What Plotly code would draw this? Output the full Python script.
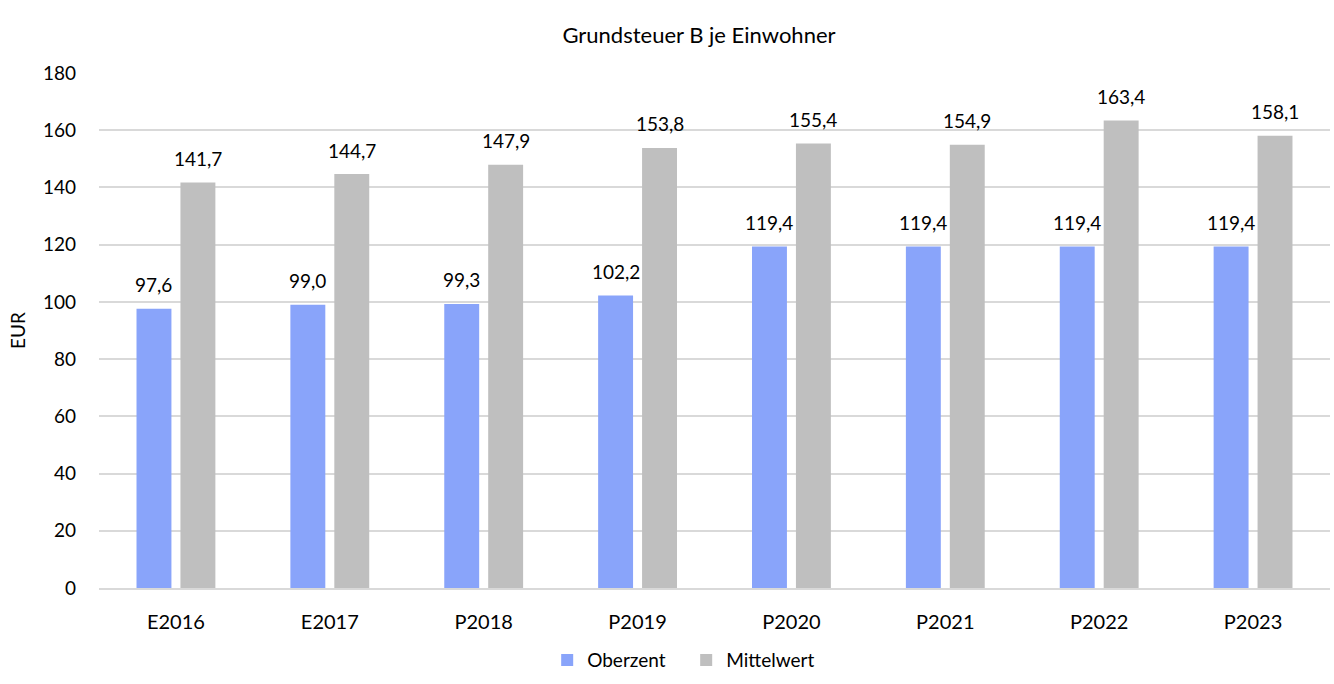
import plotly.graph_objects as go

categories = ["E2016", "E2017", "P2018", "P2019", "P2020", "P2021", "P2022", "P2023"]
oberzent = [97.6, 99.0, 99.3, 102.2, 119.4, 119.4, 119.4, 119.4]
mittelwert = [141.7, 144.7, 147.9, 153.8, 155.4, 154.9, 163.4, 158.1]
y_ticks = [0, 20, 40, 60, 80, 100, 120, 140, 160, 180]

FONT = "Lato, 'Noto Sans', sans-serif"
BLUE = "#89A4FA"
GRAY = "#BFBFBF"

def fmt(v):
    return f"{v:.1f}".replace(".", ",")

fig = go.Figure()
fig.add_trace(go.Bar(name="Oberzent", x=categories, y=oberzent, marker_color=BLUE,
                     marker_line_width=0, hoverinfo="x+y"))
fig.add_trace(go.Bar(name="Mittelwert", x=categories, y=mittelwert, marker_color=GRAY,
                     marker_line_width=0, hoverinfo="x+y"))

ann = []
for series, shift in ((oberzent, -22), (mittelwert, 22)):
    for c, v in zip(categories, series):
        ann.append(dict(x=c, y=v, xref="x", yref="y", text=fmt(v), showarrow=False,
                        xshift=shift, yshift=24, yanchor="middle",
                        font=dict(family=FONT, size=19, color="#000000")))

fig.update_layout(
    width=1334, height=684,
    paper_bgcolor="white", plot_bgcolor="white",
    margin=dict(l=99, r=4, t=73, b=96),
    barmode="group", bargap=0.429, bargroupgap=0.205,
    font=dict(family=FONT, size=20, color="#000000"),
    title=dict(text="Grundsteuer B je Einwohner", x=0.4874, xref="paper", xanchor="center",
               y=0.949, yref="container", yanchor="middle",
               font=dict(family=FONT, size=22, color="#000000")),
    xaxis=dict(showgrid=False, showline=True, linecolor="#D9D9D9", linewidth=1.5,
               ticks="", tickfont=dict(size=20), ticklabelstandoff=15),
    yaxis=dict(range=[0, 180], tickvals=y_ticks, showgrid=True, gridcolor="#D9D9D9",
               gridwidth=1.5, zeroline=False, showline=False, ticks="",
               ticklabelstandoff=22, tickfont=dict(size=19),
               title=dict(text="EUR", standoff=12, font=dict(size=19))),
    legend=dict(orientation="h", x=0.477, xanchor="center", y=-0.14, yanchor="middle",
                font=dict(size=19), itemwidth=30, traceorder="normal",
                entrywidth=94, entrywidthmode="pixels"),
    annotations=ann,
)

fig.write_html("out.html", config={"displayModeBar": False},
               post_script="document.body.style.margin='0';document.body.style.overflow='hidden';")
